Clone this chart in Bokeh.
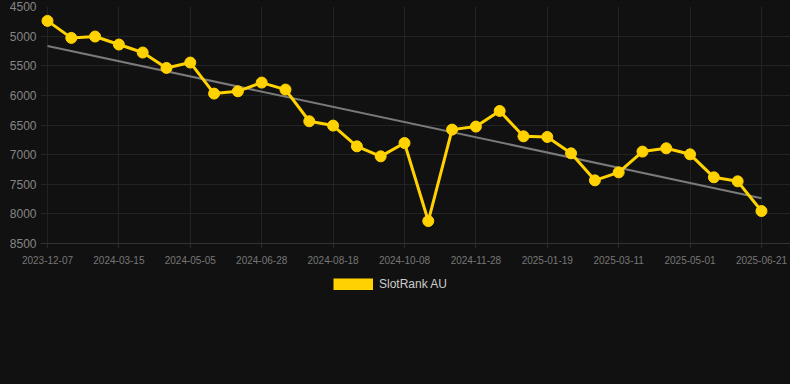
from bokeh.plotting import figure
from bokeh.layouts import column
from bokeh.models import Range1d, FixedTicker, Legend, LegendItem, ColumnDataSource
from bokeh.embed import file_html
from bokeh.resources import INLINE

# ---- data ----
rank_values = [4743, 5030, 5007, 5142, 5277, 5537, 5446, 5970, 5931, 5784, 5902,
               6437, 6510, 6860, 7029, 6804, 8121, 6578, 6527, 6263, 6691, 6702,
               6978, 7434, 7299, 6949, 6893, 6995, 7383, 7451, 7952]
tick_labels = ["2023-12-07", "2024-03-15", "2024-05-05", "2024-06-28", "2024-08-18",
               "2024-10-08", "2024-11-28", "2025-01-19", "2025-03-11", "2025-05-01",
               "2025-06-21"]
tick_step = 3
trend_index = [0, 30]
trend_values = [5165, 7735]
y_ticks = [4500, 5000, 5500, 6000, 6500, 7000, 7500, 8000, 8500]
series_name = "SlotRank AU"

BG = "#111111"
YELLOW = "#FFD200"

x_idx = list(range(len(rank_values)))
tick_pos = [i * tick_step for i in range(len(tick_labels))]
src = ColumnDataSource(dict(x=x_idx, y=rank_values))

# ---- main chart ----
p = figure(width=790, height=270, output_backend="svg", toolbar_location=None,
           x_range=Range1d(-0.294, 31.22), y_range=Range1d(8500, 4500),
           min_border_left=40, min_border_right=0, min_border_top=6,
           min_border_bottom=27)
p.background_fill_color = BG
p.border_fill_color = BG
p.outline_line_color = None

p.xaxis.ticker = FixedTicker(ticks=tick_pos)
p.xaxis.major_label_overrides = {pos: lab for pos, lab in zip(tick_pos, tick_labels)}
p.xaxis.major_label_text_font = "Liberation Sans"
p.xaxis.major_label_text_font_size = "10px"
p.xaxis.major_label_text_color = "#777777"
p.xaxis.major_tick_out = 5
p.xaxis.major_tick_in = 0
p.xaxis.major_tick_line_color = "#2a2a2a"
p.xaxis.minor_tick_line_color = None
p.xaxis.axis_line_color = "#333333"
p.xaxis.major_label_standoff = 7

p.yaxis.ticker = FixedTicker(ticks=y_ticks)
p.yaxis.major_label_text_font = "Liberation Sans"
p.yaxis.major_label_text_font_size = "12px"
p.yaxis.major_label_text_color = "#858585"
p.yaxis.major_tick_out = 0
p.yaxis.major_tick_in = 0
p.yaxis.minor_tick_line_color = None
p.yaxis.axis_line_color = None
p.yaxis.major_label_standoff = 4

p.xgrid.ticker = FixedTicker(ticks=tick_pos)
p.xgrid.grid_line_color = "#232323"
p.ygrid.grid_line_color = "#232323"

p.line(trend_index, trend_values, line_color="#7a7a7a", line_width=2)
p.line("x", "y", source=src, line_color=YELLOW, line_width=3)
p.scatter("x", "y", source=src, size=11, fill_color=YELLOW, line_color=YELLOW)

# ---- legend strip (series renderer hidden; only its legend swatch shows) ----
p2 = figure(width=790, height=114, output_backend="svg", toolbar_location=None,
            x_range=Range1d(-1000, -999), y_range=Range1d(-1000, -999),
            x_axis_type=None, y_axis_type=None,
            min_border_left=40, min_border_right=0, min_border_top=0,
            min_border_bottom=0)
p2.background_fill_color = BG
p2.border_fill_color = BG
p2.outline_line_color = None
sw = p2.line("x", "y", source=src, line_color=YELLOW, line_width=12)
sw.visible = False
legend = Legend(items=[LegendItem(label=series_name, renderers=[sw])],
                location=(293, 93), orientation="horizontal",
                glyph_width=40, glyph_height=12, label_height=12, label_width=0,
                label_standoff=6, padding=0, margin=0, spacing=0,
                label_text_font="Liberation Sans", label_text_font_size="12px",
                label_text_color="#cccccc", inactive_fill_alpha=0,
                background_fill_alpha=0, border_line_color=None)
p2.add_layout(legend, "center")

html = file_html(column(p, p2, spacing=0), INLINE)
html = html.replace("</head>", "<style>html, body { background: #111111; }</style></head>", 1)
open("out.html", "w").write(html)
